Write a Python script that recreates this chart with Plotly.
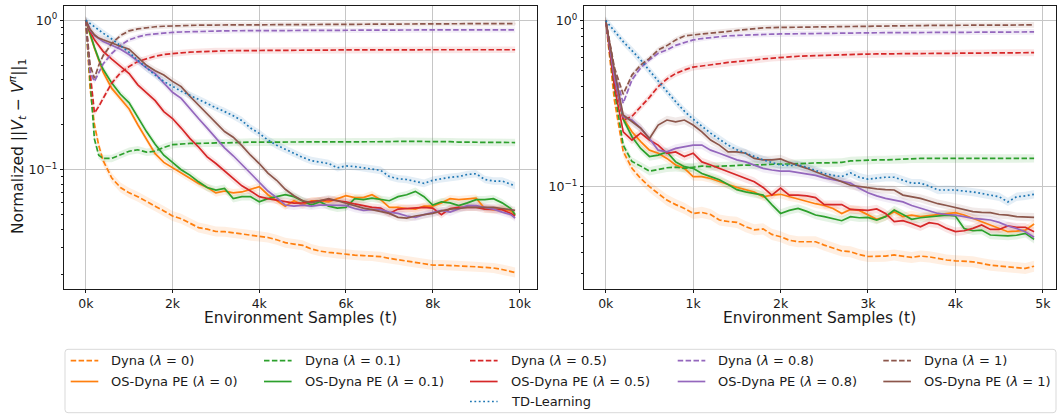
import plotly.graph_objects as go

W, H = 1060, 414

# ---------------- data ----------------
left_x = [0, 100, 200, 300, 400] + list(range(600, 9801, 200)) + [9900]
right_x = list(range(0, 4901, 100))

lambdas = ["0", "0.1", "0.5", "0.8", "1"]
colors = {"0": "#ff7f0e", "0.1": "#2ca02c", "0.5": "#d62728",
          "0.8": "#9467bd", "1": "#8c564b", "td": "#1f77b4"}

left_dyna_0 = [1.0, 0.35, 0.20, 0.145, 0.115, 0.088, 0.076, 0.070, 0.066, 0.061,
               0.057, 0.053, 0.049, 0.047, 0.044, 0.041, 0.040, 0.0386, 0.0385, 0.0378,
               0.0372, 0.0362, 0.0357, 0.0352, 0.0340, 0.0325, 0.0318, 0.0312, 0.0295, 0.0285,
               0.0280, 0.0275, 0.0270, 0.0268, 0.0266, 0.0265, 0.0262, 0.0255, 0.0250, 0.0244,
               0.0238, 0.0234, 0.0230, 0.0230, 0.0229, 0.0228, 0.0226, 0.0224, 0.0222, 0.0220,
               0.0215, 0.0208, 0.0205]
left_dyna_01 = [1.0, 0.40, 0.16, 0.125, 0.119, 0.119, 0.126, 0.133, 0.136, 0.131,
                0.133, 0.141, 0.147, 0.149, 0.150, 0.150, 0.151, 0.151, 0.151, 0.152,
                0.152, 0.153, 0.153, 0.153, 0.153, 0.154, 0.154, 0.154, 0.154, 0.154,
                0.154, 0.154, 0.154, 0.154, 0.154, 0.154, 0.154, 0.154, 0.155, 0.155,
                0.155, 0.155, 0.154, 0.154, 0.154, 0.153, 0.153, 0.153, 0.153, 0.152,
                0.152, 0.152, 0.152]
left_dyna_05 = [1.0, 0.45, 0.24, 0.265, 0.30, 0.38, 0.445, 0.49, 0.53, 0.555,
                0.575, 0.59, 0.60, 0.605, 0.612, 0.617, 0.62, 0.623, 0.625, 0.626,
                0.627, 0.628, 0.629, 0.630, 0.630, 0.631, 0.632, 0.632, 0.633, 0.633,
                0.634, 0.634, 0.634, 0.634, 0.634, 0.635, 0.635, 0.635, 0.635, 0.635,
                0.635, 0.635, 0.635, 0.635, 0.635, 0.635, 0.635, 0.635, 0.635, 0.635,
                0.635, 0.635, 0.635]
left_dyna_08 = [1.0, 0.45, 0.39, 0.45, 0.51, 0.60, 0.68, 0.74, 0.775, 0.80,
                0.812, 0.822, 0.83, 0.835, 0.84, 0.843, 0.846, 0.848, 0.850, 0.851,
                0.852, 0.853, 0.854, 0.855, 0.856, 0.857, 0.857, 0.858, 0.858, 0.859,
                0.859, 0.860, 0.860, 0.860, 0.861, 0.861, 0.861, 0.861, 0.862, 0.862,
                0.862, 0.862, 0.862, 0.862, 0.862, 0.862, 0.862, 0.862, 0.862, 0.862,
                0.862, 0.862, 0.862]
left_dyna_1 = [1.0, 0.50, 0.41, 0.50, 0.58, 0.70, 0.79, 0.85, 0.875, 0.895,
               0.905, 0.912, 0.918, 0.922, 0.925, 0.927, 0.929, 0.930, 0.931, 0.932,
               0.933, 0.934, 0.935, 0.936, 0.937, 0.938, 0.939, 0.940, 0.940, 0.941,
               0.941, 0.942, 0.942, 0.943, 0.943, 0.944, 0.944, 0.945, 0.945, 0.946,
               0.946, 0.947, 0.947, 0.948, 0.948, 0.948, 0.949, 0.949, 0.949, 0.950,
               0.950, 0.950, 0.950]
left_os_0 = [1.0, 0.80, 0.65, 0.54, 0.45, 0.35, 0.30, 0.255, 0.20, 0.16,
             0.128, 0.112, 0.103, 0.096, 0.088, 0.081, 0.076, 0.070, 0.072, 0.070,
             0.071, 0.074, 0.077, 0.068, 0.062, 0.057, 0.062, 0.058, 0.062, 0.062,
             0.061, 0.064, 0.067, 0.065, 0.065, 0.068, 0.063, 0.056, 0.056, 0.055,
             0.0545, 0.057, 0.057, 0.060, 0.064, 0.063, 0.064, 0.0645, 0.055, 0.054,
             0.0545, 0.053, 0.050]
left_os_01 = [1.0, 0.80, 0.66, 0.55, 0.47, 0.38, 0.32, 0.28, 0.225, 0.18,
              0.148, 0.125, 0.112, 0.100, 0.092, 0.083, 0.076, 0.073, 0.075, 0.064,
              0.066, 0.066, 0.061, 0.064, 0.066, 0.068, 0.066, 0.062, 0.058, 0.061,
              0.057, 0.0553, 0.056, 0.064, 0.063, 0.0646, 0.063, 0.062, 0.066, 0.068,
              0.0716, 0.066, 0.058, 0.061, 0.060, 0.0575, 0.060, 0.063, 0.063, 0.064,
              0.060, 0.055, 0.050]
left_os_05 = [1.0, 0.84, 0.74, 0.68, 0.62, 0.55, 0.49, 0.44, 0.37, 0.33,
              0.29, 0.245, 0.22, 0.19, 0.162, 0.142, 0.122, 0.110, 0.098, 0.087,
              0.078, 0.072, 0.066, 0.064, 0.0625, 0.061, 0.0598, 0.060, 0.061, 0.062,
              0.063, 0.062, 0.061, 0.059, 0.0575, 0.056, 0.0553, 0.051, 0.0545, 0.055,
              0.0555, 0.056, 0.0553, 0.050, 0.055, 0.056, 0.056, 0.056, 0.0545, 0.0545,
              0.054, 0.051, 0.049]
left_os_08 = [1.0, 0.86, 0.79, 0.75, 0.72, 0.68, 0.64, 0.59, 0.53, 0.48,
              0.44, 0.38, 0.33, 0.30, 0.255, 0.22, 0.19, 0.162, 0.14, 0.124,
              0.108, 0.094, 0.082, 0.072, 0.065, 0.058, 0.057, 0.058, 0.057, 0.058,
              0.058, 0.0575, 0.0575, 0.055, 0.0535, 0.054, 0.054, 0.052, 0.051, 0.049,
              0.048, 0.050, 0.052, 0.0535, 0.052, 0.055, 0.0575, 0.0575, 0.056, 0.0545,
              0.052, 0.050, 0.0475]
left_os_1 = [1.0, 0.87, 0.80, 0.76, 0.74, 0.70, 0.67, 0.64, 0.57, 0.50,
             0.46, 0.43, 0.39, 0.36, 0.31, 0.27, 0.235, 0.205, 0.18, 0.165,
             0.145, 0.125, 0.11, 0.095, 0.085, 0.074, 0.067, 0.062, 0.060, 0.062,
             0.064, 0.062, 0.0598, 0.057, 0.0553, 0.054, 0.0526, 0.051, 0.048, 0.0475,
             0.049, 0.050, 0.051, 0.053, 0.0545, 0.055, 0.056, 0.056, 0.056, 0.056,
             0.055, 0.054, 0.0534]
left_td = [1.0, 0.95, 0.90, 0.86, 0.82, 0.75, 0.68, 0.61, 0.54, 0.48,
           0.43, 0.39, 0.36, 0.335, 0.315, 0.295, 0.275, 0.26, 0.245, 0.23,
           0.213, 0.19, 0.175, 0.158, 0.146, 0.137, 0.128, 0.121, 0.115, 0.113,
           0.110, 0.103, 0.106, 0.105, 0.103, 0.101, 0.099, 0.090, 0.087, 0.086,
           0.083, 0.081, 0.085, 0.087, 0.089, 0.090, 0.093, 0.094, 0.086, 0.084,
           0.084, 0.080, 0.078]

right_dyna_0 = [1.0, 0.33, 0.163, 0.129, 0.112, 0.100, 0.091, 0.083, 0.078, 0.074,
                0.069, 0.070, 0.068, 0.063, 0.0617, 0.061, 0.0575, 0.055, 0.0557, 0.0516,
                0.050, 0.0476, 0.0466, 0.0466, 0.0466, 0.0445, 0.0425, 0.041, 0.0406, 0.039,
                0.038, 0.0381, 0.0382, 0.0388, 0.038, 0.0375, 0.0382, 0.0378, 0.037, 0.0362,
                0.0358, 0.0356, 0.0353, 0.0345, 0.0337, 0.0333, 0.033, 0.0326, 0.0322, 0.0332]
right_dyna_01 = [1.0, 0.38, 0.178, 0.142, 0.133, 0.124, 0.127, 0.130, 0.131, 0.129,
                 0.131, 0.133, 0.132, 0.133, 0.134, 0.134, 0.135, 0.135, 0.136, 0.136,
                 0.137, 0.137, 0.138, 0.138, 0.139, 0.139, 0.139, 0.140, 0.143, 0.144,
                 0.144, 0.145, 0.145, 0.146, 0.146, 0.147, 0.148, 0.148, 0.148, 0.148,
                 0.148, 0.148, 0.148, 0.148, 0.148, 0.148, 0.148, 0.148, 0.148, 0.148]
right_dyna_05 = [1.0, 0.45, 0.252, 0.265, 0.303, 0.345, 0.40, 0.445, 0.48, 0.505,
                 0.525, 0.535, 0.54, 0.55, 0.56, 0.565, 0.572, 0.58, 0.588, 0.595,
                 0.60, 0.605, 0.61, 0.613, 0.616, 0.619, 0.621, 0.623, 0.625, 0.627,
                 0.629, 0.630, 0.631, 0.632, 0.633, 0.634, 0.635, 0.636, 0.636, 0.637,
                 0.637, 0.638, 0.638, 0.639, 0.639, 0.640, 0.640, 0.640, 0.641, 0.641]
right_dyna_08 = [1.0, 0.50, 0.318, 0.44, 0.52, 0.58, 0.636, 0.666, 0.71, 0.74,
                 0.765, 0.78, 0.794, 0.80, 0.81, 0.815, 0.82, 0.824, 0.827, 0.829,
                 0.831, 0.833, 0.835, 0.837, 0.838, 0.839, 0.840, 0.841, 0.842, 0.843,
                 0.844, 0.845, 0.846, 0.847, 0.848, 0.848, 0.849, 0.850, 0.850, 0.851,
                 0.851, 0.852, 0.852, 0.853, 0.853, 0.854, 0.854, 0.855, 0.855, 0.855]
right_dyna_1 = [1.0, 0.52, 0.36, 0.47, 0.54, 0.593, 0.666, 0.707, 0.765, 0.808,
                0.82, 0.83, 0.839, 0.852, 0.866, 0.878, 0.89, 0.898, 0.905, 0.908,
                0.91, 0.913, 0.915, 0.917, 0.919, 0.92, 0.922, 0.923, 0.925, 0.927,
                0.928, 0.929, 0.930, 0.931, 0.932, 0.933, 0.934, 0.935, 0.936, 0.937,
                0.937, 0.938, 0.938, 0.939, 0.939, 0.940, 0.940, 0.941, 0.941, 0.942]
right_os_0 = [1.0, 0.45, 0.258, 0.214, 0.187, 0.166, 0.159, 0.148, 0.135, 0.129,
              0.115, 0.115, 0.112, 0.107, 0.103, 0.099, 0.096, 0.093, 0.087, 0.089,
              0.090, 0.087, 0.085, 0.082, 0.079, 0.077, 0.074, 0.069, 0.073, 0.072,
              0.0675, 0.0636, 0.066, 0.0707, 0.066, 0.0675, 0.066, 0.067, 0.0675, 0.069,
              0.0698, 0.0675, 0.0645, 0.062, 0.0588, 0.056, 0.0536, 0.054, 0.0548, 0.0596]
right_os_01 = [1.0, 0.45, 0.255, 0.20, 0.17, 0.152, 0.155, 0.162, 0.141, 0.132,
               0.129, 0.12, 0.115, 0.11, 0.103, 0.096, 0.093, 0.091, 0.089, 0.078,
               0.069, 0.072, 0.074, 0.071, 0.0675, 0.066, 0.064, 0.0624, 0.066, 0.065,
               0.0654, 0.063, 0.066, 0.0724, 0.068, 0.0636, 0.065, 0.066, 0.0665, 0.0675,
               0.0666, 0.056, 0.0543, 0.0548, 0.0512, 0.051, 0.0505, 0.051, 0.0524, 0.0482]
right_os_05 = [1.0, 0.40, 0.214, 0.191, 0.21, 0.191, 0.178, 0.159, 0.162, 0.152,
               0.159, 0.141, 0.135, 0.129, 0.123, 0.117, 0.112, 0.107, 0.099, 0.089,
               0.098, 0.089, 0.089, 0.088, 0.086, 0.078, 0.078, 0.078, 0.073, 0.0725,
               0.072, 0.0734, 0.069, 0.0616, 0.0624, 0.060, 0.0574, 0.0607, 0.0596, 0.0561,
               0.0536, 0.0543, 0.0561, 0.0588, 0.0553, 0.0553, 0.058, 0.057, 0.057, 0.0536]
right_os_08 = [1.0, 0.45, 0.264, 0.252, 0.225, 0.195, 0.166, 0.162, 0.17, 0.174,
               0.178, 0.178, 0.166, 0.159, 0.152, 0.145, 0.141, 0.135, 0.129, 0.126,
               0.124, 0.124, 0.122, 0.12, 0.117, 0.113, 0.11, 0.107, 0.105, 0.098,
               0.092, 0.088, 0.085, 0.083, 0.081, 0.077, 0.074, 0.0715, 0.069, 0.068,
               0.0675, 0.066, 0.0645, 0.0638, 0.063, 0.061, 0.058, 0.056, 0.0536, 0.0496]
right_os_1 = [1.0, 0.50, 0.27, 0.245, 0.225, 0.195, 0.235, 0.252, 0.246, 0.252,
              0.235, 0.214, 0.191, 0.178, 0.162, 0.162, 0.159, 0.148, 0.145, 0.145,
              0.147, 0.14, 0.135, 0.129, 0.123, 0.117, 0.112, 0.107, 0.102, 0.10,
              0.098, 0.097, 0.096, 0.0955, 0.089, 0.087, 0.085, 0.082, 0.079, 0.077,
              0.075, 0.073, 0.0707, 0.070, 0.0698, 0.068, 0.0675, 0.066, 0.0654, 0.0654]
right_td = [1.0, 0.86, 0.747, 0.66, 0.58, 0.50, 0.43, 0.375, 0.325, 0.285,
            0.255, 0.23, 0.21, 0.193, 0.178, 0.167, 0.159, 0.151, 0.145, 0.14,
            0.135, 0.134, 0.135, 0.131, 0.125, 0.12, 0.117, 0.115, 0.121, 0.114,
            0.111, 0.113, 0.114, 0.114, 0.109, 0.105, 0.105, 0.101, 0.0955, 0.096,
            0.0955, 0.094, 0.093, 0.091, 0.089, 0.087, 0.081, 0.087, 0.088, 0.090]

# relative half-width of the shaded spread band, per series
band_dyna = {"0": 0.08, "0.1": 0.06, "0.5": 0.05, "0.8": 0.04, "1": 0.04}
band_os = {"0": 0.06, "0.1": 0.06, "0.5": 0.06, "0.8": 0.06, "1": 0.06}
band_td = 0.06

left_x_ticks = [0, 2000, 4000, 6000, 8000, 10000]
left_x_labels = ["0k", "2k", "4k", "6k", "8k", "10k"]
right_x_ticks = [0, 1000, 2000, 3000, 4000, 5000]
right_x_labels = ["0k", "1k", "2k", "3k", "4k", "5k"]
y_ticks = [0.1, 1.0]
y_labels = ["10<sup>\u22121</sup>", "10<sup>0</sup>"]
y_minor = [0.02, 0.03, 0.04, 0.05, 0.06, 0.07, 0.08, 0.09,
           0.2, 0.3, 0.4, 0.5, 0.6, 0.7, 0.8, 0.9]

panels = [
    dict(x=left_x, xa="x", ya="y",
         dyna={"0": left_dyna_0, "0.1": left_dyna_01, "0.5": left_dyna_05,
               "0.8": left_dyna_08, "1": left_dyna_1},
         os={"0": left_os_0, "0.1": left_os_01, "0.5": left_os_05,
             "0.8": left_os_08, "1": left_os_1},
         td=left_td),
    dict(x=right_x, xa="x2", ya="y2",
         dyna={"0": right_dyna_0, "0.1": right_dyna_01, "0.5": right_dyna_05,
               "0.8": right_dyna_08, "1": right_dyna_1},
         os={"0": right_os_0, "0.1": right_os_01, "0.5": right_os_05,
             "0.8": right_os_08, "1": right_os_1},
         td=right_td),
]

for p in panels:
    n = len(p["x"])
    for lam in lambdas:
        assert len(p["dyna"][lam]) == n, ("dyna", lam, len(p["dyna"][lam]), n)
        assert len(p["os"][lam]) == n, ("os", lam, len(p["os"][lam]), n)
    assert len(p["td"]) == n


def rgba(hexc, a):
    h = hexc.lstrip("#")
    return "rgba(%d,%d,%d,%.3f)" % (int(h[0:2], 16), int(h[2:4], 16), int(h[4:6], 16), a)


DASH = "5.5px,2.4px"
DOT = "1.8px,2.6px"
LW = 1.7
FONT = "DejaVu Sans"

fig = go.Figure()


def add_band(p, ys, b, col):
    xs = p["x"]
    up = [v * (1 + b) for v in ys]
    lo = [v / (1 + b) for v in ys]
    fig.add_trace(go.Scatter(x=list(xs) + list(xs)[::-1], y=up + lo[::-1],
                             fill="toself", fillcolor=rgba(col, 0.12),
                             line=dict(width=0), mode="lines", hoverinfo="skip",
                             showlegend=False, xaxis=p["xa"], yaxis=p["ya"]))


def add_line(p, ys, col, dash):
    fig.add_trace(go.Scatter(x=p["x"], y=ys, mode="lines",
                             line=dict(color=col, width=LW, dash=dash),
                             showlegend=False, xaxis=p["xa"], yaxis=p["ya"]))


for p in panels:
    for lam in lambdas:
        add_band(p, p["dyna"][lam], band_dyna[lam], colors[lam])
        add_band(p, p["os"][lam], band_os[lam], colors[lam])
    add_band(p, p["td"], band_td, colors["td"])
    for lam in lambdas:
        add_line(p, p["dyna"][lam], colors[lam], DASH)
        add_line(p, p["os"][lam], colors[lam], "solid")
    add_line(p, p["td"], colors["td"], DOT)


def px(v):
    return v / W


def py(v):
    return 1 - v / H


axis_style = dict(showline=True, mirror=True, linecolor="#1a1a1a", linewidth=1,
                  ticks="outside", ticklen=3.5, tickwidth=0.8, tickcolor="#1a1a1a",
                  showgrid=True, gridcolor="#c6c6c6", gridwidth=0.8, zeroline=False,
                  tickfont=dict(family=FONT, size=12.5, color="#1a1a1a"),
                  automargin=False, fixedrange=True)

yminor = dict(tickmode="array", tickvals=y_minor, ticks="outside", ticklen=2,
              tickwidth=0.6, tickcolor="#1a1a1a", showgrid=False)

fig.update_layout(
    width=W, height=H, margin=dict(l=0, r=0, t=0, b=0),
    paper_bgcolor="white", plot_bgcolor="white", showlegend=False,
    font=dict(family=FONT, color="#1a1a1a"),
    xaxis=dict(domain=[px(64.3), px(536.6)], range=[-495, 10395], anchor="y",
               tickmode="array", tickvals=left_x_ticks, ticktext=left_x_labels, **axis_style),
    yaxis=dict(domain=[py(288.5), py(5.5)], type="log", range=[-1.795, 0.099], anchor="x",
               tickmode="array", tickvals=y_ticks, ticktext=y_labels, minor=yminor, **axis_style),
    xaxis2=dict(domain=[px(584.3), px(1055.5)], range=[-245, 5145], anchor="y2",
                tickmode="array", tickvals=right_x_ticks, ticktext=right_x_labels, **axis_style),
    yaxis2=dict(domain=[py(288.5), py(5.5)], type="log", range=[-1.613, 0.091], anchor="x2",
                tickmode="array", tickvals=y_ticks, ticktext=y_labels, minor=yminor, **axis_style),
)

annotations = []
shapes = []

# axis titles
for xc in [(64.3 + 536.6) / 2, (584.3 + 1055.5) / 2]:
    annotations.append(dict(x=px(xc), y=py(318), xref="paper", yref="paper",
                            text="Environment Samples (t)", showarrow=False,
                            xanchor="center", yanchor="middle",
                            font=dict(family=FONT, size=15.5, color="#1a1a1a")))
annotations.append(dict(x=px(17.5), y=py(146.5), xref="paper", yref="paper",
                        text="Normalized ||<i>V</i><sub><i>t</i></sub> \u2212 <i>V</i><sup><i>\u03c0</i></sup>||<sub>1</sub>",
                        textangle=-90, showarrow=False, xanchor="center", yanchor="middle",
                        font=dict(family=FONT, size=15.5, color="#1a1a1a")))

# legend (matplotlib-style box, 5 columns)
lx0, ly0, lx1, ly1, r = 65.0, 349.3, 1056.0, 412.7, 3.0
path = ("M {a},{b} L {c},{b} Q {d},{b} {d},{e} L {d},{f} Q {d},{g} {c},{g} "
        "L {a},{g} Q {h},{g} {h},{f} L {h},{e} Q {h},{b} {a},{b} Z").format(
    a=px(lx0 + r), b=py(ly0), c=px(lx1 - r), d=px(lx1), e=py(ly0 + r),
    f=py(ly1 - r), g=py(ly1), h=px(lx0))
shapes.append(dict(type="path", path=path, xref="paper", yref="paper",
                   line=dict(color="#d9d9d9", width=1), fillcolor="rgba(255,255,255,0.8)",
                   layer="above"))

handle_x = [70.7, 264.0, 470.0, 677.7, 883.3]
text_x = [109.3, 302.7, 509.3, 715.7, 922.3]
row_y = [360.7, 381.5, 401.5]
HL = 27.6
for i, lam in enumerate(lambdas):
    for row, (kind, dash) in enumerate([("Dyna", DASH), ("OS-Dyna PE", "solid")]):
        shapes.append(dict(type="line", xref="paper", yref="paper",
                           x0=px(handle_x[i]), x1=px(handle_x[i] + HL),
                           y0=py(row_y[row]), y1=py(row_y[row]),
                           line=dict(color=colors[lam], width=LW, dash=dash), layer="above"))
        annotations.append(dict(x=px(text_x[i]), y=py(row_y[row]), xref="paper", yref="paper",
                                text="%s (<i>\u03bb</i> = %s)" % (kind, lam), showarrow=False,
                                xanchor="left", yanchor="middle",
                                font=dict(family=FONT, size=13, color="#1a1a1a")))
shapes.append(dict(type="line", xref="paper", yref="paper",
                   x0=px(handle_x[2]), x1=px(handle_x[2] + HL),
                   y0=py(row_y[2]), y1=py(row_y[2]),
                   line=dict(color=colors["td"], width=LW, dash=DOT), layer="above"))
annotations.append(dict(x=px(text_x[2]), y=py(row_y[2]), xref="paper", yref="paper",
                        text="TD-Learning", showarrow=False, xanchor="left", yanchor="middle",
                        font=dict(family=FONT, size=13, color="#1a1a1a")))

fig.update_layout(annotations=annotations, shapes=shapes)

fig.write_html("out.html", config={"displayModeBar": False},
               post_script="document.body.style.margin='0';")
